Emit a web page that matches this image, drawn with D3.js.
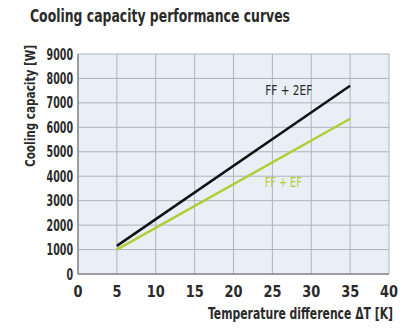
<!DOCTYPE html>
<html>
<head>
<meta charset="utf-8">
<script src="https://cdn.jsdelivr.net/npm/d3@7"></script>
<style>
  body { margin: 0; background: #fff; }
  text { font-family: "DejaVu Sans", sans-serif; font-stretch: condensed; font-weight: bold; fill: #2a2a2a; }
</style>
</head>
<body>
<div id="chart"></div>
<script>
"use strict";

// data
var xTicks = [0, 5, 10, 15, 20, 25, 30, 35, 40];
var yTicks = [0, 1000, 2000, 3000, 4000, 5000, 6000, 7000, 8000, 9000];
var deltaT = [5, 35];
var twoEF = [1150, 7700];   // FF + 2EF
var oneEF = [1000, 6350];   // FF + EF

var margin = { top: 54, right: 15, bottom: 54, left: 78 },
    width = 404 - margin.left - margin.right,
    height = 328 - margin.top - margin.bottom;

var svg = d3.select("#chart")
  .append("svg")
  .attr("width", 404)
  .attr("height", 328);

// squeeze text to the narrow look of the original
function narrow(sel, len) {
  sel.attr("textLength", len).attr("lengthAdjust", "spacingAndGlyphs");
}

svg.append("text")
  .attr("x", 30).attr("y", 22)
  .style("font-size", "18px")
  .text("Cooling capacity performance curves")
  .call(narrow, 260);

var g = svg.append("g")
  .attr("transform", "translate(" + margin.left + "," + margin.top + ")");

var x = d3.scaleLinear().domain([0, 40]).range([0, width]);
var y = d3.scaleLinear().domain([0, 9000]).range([height, 0]);

// plot background
g.append("rect")
  .attr("width", width).attr("height", height)
  .attr("fill", "#e9eff7");

// grid
g.selectAll(".vgrid").data(xTicks).enter().append("line")
  .attr("x1", d => x(d)).attr("x2", d => x(d))
  .attr("y1", 0).attr("y2", height)
  .attr("stroke", "#adb4bc").attr("stroke-width", 1);
g.selectAll(".hgrid").data(yTicks).enter().append("line")
  .attr("x1", 0).attr("x2", width)
  .attr("y1", d => y(d)).attr("y2", d => y(d))
  .attr("stroke", "#adb4bc").attr("stroke-width", 1);

// axis lines
g.append("line").attr("x1", 0).attr("x2", 0).attr("y1", 0).attr("y2", height)
  .attr("stroke", "#666");
g.append("line").attr("x1", 0).attr("x2", width).attr("y1", height).attr("y2", height)
  .attr("stroke", "#666");

// tick labels
g.selectAll(".ylab").data(yTicks).enter().append("text")
  .attr("x", -5).attr("y", d => y(d) + 5.5)
  .attr("text-anchor", "end")
  .style("font-size", "15px")
  .text(d => d)
  .each(function (d) { d3.select(this).call(narrow, String(d).length * 6.6); });
g.selectAll(".xlab").data(xTicks).enter().append("text")
  .attr("x", d => x(d)).attr("y", height + 23)
  .attr("text-anchor", "middle")
  .style("font-size", "16px")
  .text(d => d)
  .each(function (d) { d3.select(this).call(narrow, String(d).length * 9); });

// axis titles
svg.append("text")
  .attr("transform", "translate(35,106) rotate(-90)")
  .attr("text-anchor", "middle")
  .style("font-size", "14px")
  .text("Cooling capacity [W]")
  .call(narrow, 122);

// x title: squeeze with a transform so its box stays inside the page
var xTitle = svg.append("text")
  .attr("text-anchor", "end")
  .style("font-size", "16px")
  .text("Temperature difference ΔT [K]");
var natural = xTitle.node().getComputedTextLength();
xTitle.attr("transform", "translate(393,319) scale(" + (185 / natural) + ",1)");

// curves
var line = d3.line().x(d => x(d[0])).y(d => y(d[1]));
g.append("path")
  .datum(d3.zip(deltaT, oneEF))
  .attr("d", line)
  .attr("fill", "none").attr("stroke", "#b4cc36").attr("stroke-width", 2.5);
g.append("path")
  .datum(d3.zip(deltaT, twoEF))
  .attr("d", line)
  .attr("fill", "none").attr("stroke", "#111").attr("stroke-width", 2.5);

// series labels
g.append("text")
  .attr("x", x(27.1)).attr("y", y(7320))
  .attr("text-anchor", "middle")
  .style("font-size", "14px").style("font-weight", "normal")
  .text("FF + 2EF")
  .call(narrow, 47);
g.append("text")
  .attr("x", x(26.4)).attr("y", y(3560))
  .attr("text-anchor", "middle")
  .style("font-size", "14px").style("font-weight", "normal")
  .style("fill", "#b4cc36")
  .text("FF + EF")
  .call(narrow, 37);
</script>
</body>
</html>
